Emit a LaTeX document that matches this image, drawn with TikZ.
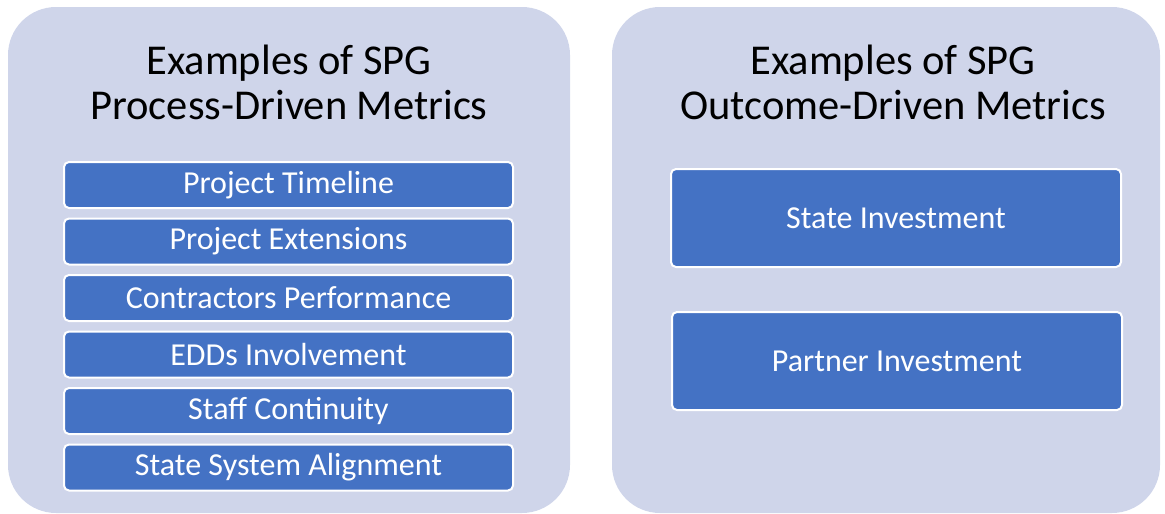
\documentclass[tikz,border=0pt]{standalone}
\usepackage{fontspec}
\setmainfont{Carlito}
\usetikzlibrary{positioning}
\definecolor{panelfill}{HTML}{CFD5EA}
\definecolor{boxfill}{HTML}{4472C4}
\tikzset{panel/.style={fill=panelfill, rounded corners=48pt},
	title/.style={align=center, font=\fontsize{42.5}{45}\selectfont},
	metric/.style={fill=boxfill, draw=white, line width=2pt, rounded corners=5pt,
		text=white, font=\fontsize{32}{36}\selectfont, minimum width=449pt,
		minimum height=46pt, inner sep=0pt}}

\begin{document}
\begin{tikzpicture}[x=1pt,y=-1pt]
	\useasboundingbox (0,0) rectangle (1165,514);
	\fill[panel] (8,7) rectangle (570,513);
	\fill[panel] (612,7) rectangle (1160,513);
	\node[title] (lefttitle) at (289,82) {Examples of SPG\\Process-Driven Metrics};
	\node[title] (righttitle) at (893,82) {Examples of SPG\\Outcome-Driven Metrics};
	\node[metric] (timeline) at (288.5,185) {Project Timeline};
	\node[metric, below=8.5pt of timeline] (extensions) {Project Extensions};
	\node[metric, below=8.5pt of extensions] (contractors) {Contractors Performance};
	\node[metric, below=8.5pt of contractors] (edds) {EDDs Involvement};
	\node[metric, below=8.5pt of edds] (staff) {Staff Continuity};
	\node[metric, below=8.5pt of staff] (alignment) {State System Alignment};
	\node[metric, minimum height=98pt, minimum width=450pt] (state) at (896,218) {State Investment};
	\node[metric, minimum height=98pt, minimum width=450pt] (partner) at (897,361) {Partner Investment};
\end{tikzpicture}
\end{document}
